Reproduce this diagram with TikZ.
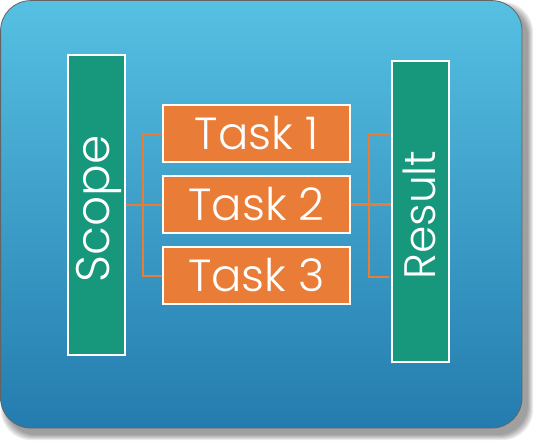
\documentclass[tikz,border=0pt]{standalone}
\usepackage{fontspec}
\setmainfont{Poppins}[UprightFont={* Light}]
\definecolor{topc}{RGB}{86,192,226}
\definecolor{botc}{RGB}{36,124,174}
\definecolor{greenc}{RGB}{23,151,123}
\definecolor{orangec}{RGB}{233,125,56}
\definecolor{edgec}{RGB}{100,100,100}
\pgfdeclarelayer{back}
\pgfdeclarelayer{mid}
\pgfsetlayers{back,mid,main}
\tikzset{
  greenbox/.style={draw=white, line width=1.6pt, fill=greenc, inner sep=0pt, minimum width=57pt},
  taskbox/.style={draw=white, line width=1.6pt, fill=orangec, inner sep=0pt, minimum width=187pt, minimum height=57pt, text=white, font=\fontsize{45}{45}\selectfont},
  vlabel/.style={text=white, rotate=90, inner sep=0pt, font=\fontsize{44}{44}\selectfont},
  conn/.style={draw=orangec, line width=2pt}
}
\begin{document}
\begin{tikzpicture}[x=1pt,y=-1pt]
\useasboundingbox (0,0) rectangle (534,441);
\begin{pgfonlayer}{back}
\foreach \d in {0,1,2,3,4,5}
  \fill[black, opacity=0.075, rounded corners=30pt] (6-\d,7-\d) rectangle (528+\d,435+\d);
\shade[top color=topc, bottom color=botc, draw=edgec, line width=0.8pt, rounded corners=30pt] (0.6,0.6) rectangle (522,428);
\end{pgfonlayer}
\node[greenbox, minimum height=300pt] (scope) at (96.5,205) {};
\node[greenbox, minimum height=301pt] (result) at (420.5,211.5) {};
\node[vlabel, font=\fontsize{47}{47}\selectfont] (scopelabel) at (99,209) {Scope};
\node[vlabel] (resultlabel) at (419,215) {Result};
\node[taskbox] (task1) at (256.5,133.5) {Task 1};
\node[taskbox] (task2) at (256.5,204.5) {Task 2};
\node[taskbox] (task3) at (256.5,275.5) {Task 3};
\coordinate (lx) at (143,0);
\coordinate (rx) at (369,0);
\coordinate (rt) at (389,134);
\coordinate (rb) at (389,277);
\begin{pgfonlayer}{mid}
\draw[conn] (scope.east |- task2.west) -- (task2.west);
\draw[conn] (task1.west) -- (task1.west -| lx) -- (task3.west -| lx) -- (task3.west);
\draw[conn, line width=2.6pt] (task2.east) -- (task2.east -| result.west);
\draw[conn] (rt) -- (rt -| rx) -- (rb -| rx) -- (rb);
\end{pgfonlayer}
\end{tikzpicture}
\end{document}
